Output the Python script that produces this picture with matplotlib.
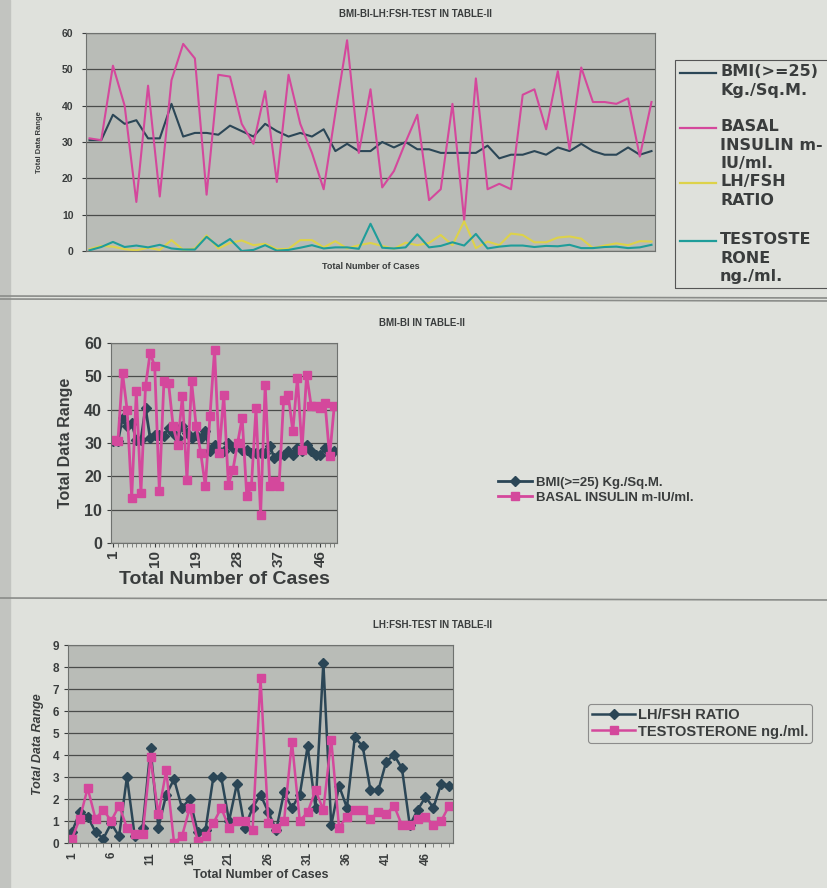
import matplotlib
matplotlib.use("Agg")
import matplotlib.pyplot as plt
from matplotlib.lines import Line2D
from matplotlib.patches import Rectangle
import numpy as np

plt.rcParams['font.family'] = ['Liberation Sans', 'DejaVu Sans']
plt.rcParams['font.weight'] = 'bold'
plt.rcParams['axes.labelweight'] = 'bold'

# Table-II values, cases 1..49
cases = list(range(1, 50))
bmi = [30.5, 30.5, 37.5, 35, 36, 31, 31, 40.5, 31.5, 32.5,
       32.5, 32, 34.5, 33, 31.5, 35, 33, 31.5, 32.5, 31.5,
       33.5, 27.5, 29.5, 27.5, 27.5, 30, 28.5, 30, 28, 28,
       27, 27, 27, 27, 29, 25.5, 26.5, 26.5, 27.5, 26.5,
       28.5, 27.5, 29.5, 27.5, 26.5, 26.5, 28.5, 26.5, 27.5]
insulin = [31, 30.5, 51, 40, 13.5, 45.5, 15, 47, 57, 53,
           15.5, 48.5, 48, 35, 29.5, 44, 19, 48.5, 35, 27,
           17, 38, 58, 27, 44.5, 17.5, 22, 30, 37.5, 14,
           17, 40.5, 8.5, 47.5, 17, 18.5, 17, 43, 44.5, 33.5,
           49.5, 28, 50.5, 41, 41, 40.5, 42, 26, 41]
lh_fsh = [0.5, 1.4, 1.2, 0.5, 0.2, 0.9, 0.3, 3.0, 0.3, 0.7,
          4.3, 0.7, 2.2, 2.9, 1.6, 2.0, 0.5, 0.6, 3.0, 3.0,
          1.0, 2.7, 0.7, 1.6, 2.2, 1.4, 0.6, 2.3, 1.6, 2.2,
          4.4, 1.6, 8.2, 0.8, 2.6, 1.6, 4.8, 4.4, 2.4, 2.4,
          3.7, 4.0, 3.4, 0.8, 1.5, 2.1, 1.6, 2.7, 2.6]
testo = [0.2, 1.1, 2.5, 1.1, 1.5, 1.0, 1.7, 0.7, 0.4, 0.4,
         3.9, 1.3, 3.3, 0.0, 0.3, 1.6, 0.1, 0.3, 0.9, 1.6,
         0.7, 1.0, 1.0, 0.6, 7.5, 0.9, 0.7, 1.0, 4.6, 1.0,
         1.4, 2.4, 1.5, 4.7, 0.7, 1.2, 1.5, 1.5, 1.1, 1.4,
         1.3, 1.7, 0.8, 0.8, 1.1, 1.2, 0.8, 1.0, 1.7]

lbl_bmi = "BMI(>=25) Kg./Sq.M."
lbl_ins = "BASAL INSULIN m-IU/ml."
lbl_lh = "LH/FSH RATIO"
lbl_te = "TESTOSTERONE ng./ml."
# wrapped labels for the narrow legend of the top chart
top_labels = ["BMI(>=25)\nKg./Sq.M.", "BASAL\nINSULIN m-\nIU/ml.",
              "LH/FSH\nRATIO", "TESTOSTE\nRONE\nng./ml."]

page = '#dfe1dc'
plot_bg = '#b9bcb7'
navy = '#2b4656'
magenta = '#d4489c'
yellow = '#ddd24a'
teal = '#1f9d9a'
txt = '#3a3d3d'

W, H = 827, 888
fig = plt.figure(figsize=(W / 100, H / 100), dpi=100, facecolor=page)


def box(x0, y0, x1, y1):
    # pixel box -> figure fraction rect
    return [x0 / W, 1 - y1 / H, (x1 - x0) / W, (y1 - y0) / H]


def fx(x):
    return x / W


def fy(y):
    return 1 - y / H


def style(ax):
    ax.set_facecolor(plot_bg)
    for s in ax.spines.values():
        s.set_color('#6f726f')
        s.set_linewidth(0.8)
    ax.grid(axis='y', color='#4a4c4a', linewidth=0.9)
    ax.set_axisbelow(True)
    ax.tick_params(colors=txt, labelcolor=txt)


# binding shadow on the left edge and separators between the charts
fig.patches.append(Rectangle((0, 0), 10 / W, 1, transform=fig.transFigure,
                             color='#c2c4c0', zorder=0))
for y in (296, 299, 598):
    fig.add_artist(Line2D([0, 1], [fy(y), fy(y + 2)],
                          color='#8a8c89', linewidth=1.2))

# ---- top chart: all four series ----
ax1 = fig.add_axes(box(86, 33, 655, 251))
style(ax1)
top_series = [bmi, insulin, lh_fsh, testo]
top_colors = [navy, magenta, yellow, teal]
for vals, col, lab in zip(top_series, top_colors, top_labels):
    ax1.plot(cases, vals, color=col, linewidth=1.5, label=lab)
ax1.set_xlim(0.7, 49.3)
ax1.set_ylim(0, 60)
ax1.set_yticks(range(0, 61, 10))
ax1.set_xticks([])
ax1.tick_params(axis='y', labelsize=7.5, length=3, pad=6)
ax1.set_xlabel("Total Number of Cases", fontsize=6.5, color=txt, labelpad=8)
ax1.set_ylabel("Total Data Range", fontsize=5.5, color=txt, labelpad=14)
fig.text(415 / W, fy(14), "BMI-BI-LH:FSH-TEST IN TABLE-II", ha='center',
         va='center', fontsize=7, color=txt)

# legend of the top chart: handle sits on the first text line of each entry
fig.add_artist(Rectangle((fx(675), fy(288)), fx(170), (288 - 60) / H,
                         transform=fig.transFigure, fill=False,
                         edgecolor='#555', linewidth=0.8))
for y, col, lab in zip([73, 128, 183, 241], top_colors, top_labels):
    fig.add_artist(Line2D([fx(680), fx(716)], [fy(y), fy(y)], color=col,
                          linewidth=1.6))
    fig.text(fx(720), fy(y - 9), lab, ha='left', va='top', fontsize=11.5,
             family='DejaVu Sans', color=txt, linespacing=1.3)

# ---- middle chart: BMI and insulin ----
ax2 = fig.add_axes(box(111, 343, 337, 543))
style(ax2)
ax2.plot(cases, bmi, color=navy, linewidth=2, marker='D', markersize=5,
         label=lbl_bmi)
ax2.plot(cases, insulin, color=magenta, linewidth=2, marker='s', markersize=6,
         label=lbl_ins)
ax2.set_xlim(0.5, 49.6)
ax2.set_ylim(0, 60)
ax2.set_yticks(range(0, 61, 10))
ax2.set_xticks([1, 10, 19, 28, 37, 46])
ax2.set_xticks(cases, minor=True)
ax2.tick_params(axis='y', labelsize=11.5, length=3)
ax2.tick_params(axis='x', labelsize=11, rotation=90, length=3, pad=2)
ax2.tick_params(axis='x', which='minor', length=3, color='#6f726f')
ax2.set_xlabel("Total Number of Cases", fontsize=14, color=txt, labelpad=3)
ax2.set_ylabel("Total Data Range", fontsize=11.5, color=txt, labelpad=8)
fig.text(422 / W, fy(323), "BMI-BI IN TABLE-II", ha='center',
         va='center', fontsize=7, color=txt)
leg2 = ax2.legend(loc='upper left', bbox_to_anchor=(fx(495), fy(474)),
                  bbox_transform=fig.transFigure, fontsize=9.5, frameon=False,
                  handlelength=2.6, handletextpad=0.3, labelspacing=0.2,
                  borderpad=0.2, borderaxespad=0)
for t in leg2.get_texts():
    t.set_color(txt)

# ---- bottom chart: LH/FSH and testosterone ----
ax3 = fig.add_axes(box(68, 645, 453, 843))
style(ax3)
ax3.plot(cases, lh_fsh, color=navy, linewidth=1.8, marker='D', markersize=5,
         label=lbl_lh)
ax3.plot(cases, testo, color=magenta, linewidth=1.8, marker='s', markersize=5.5,
         label=lbl_te)
ax3.set_xlim(0.5, 49.5)
ax3.set_ylim(0, 9)
ax3.set_yticks(range(0, 10))
ax3.set_xticks(list(range(1, 50, 5)))
ax3.set_xticks(cases, minor=True)
ax3.tick_params(axis='y', labelsize=8.5, length=3)
ax3.tick_params(axis='x', labelsize=8.5, rotation=90, length=3)
ax3.tick_params(axis='x', which='minor', length=3, color='#6f726f')
ax3.set_xlabel("Total Number of Cases", fontsize=9, color=txt, labelpad=3)
ax3.set_ylabel("Total Data Range", fontsize=9, color=txt, style='italic',
               labelpad=6)
fig.text(432 / W, fy(625), "LH:FSH-TEST IN TABLE-II", ha='center',
         va='center', fontsize=7, color=txt)
leg3 = ax3.legend(loc='upper left', bbox_to_anchor=(fx(588), fy(704)),
                  bbox_transform=fig.transFigure, fontsize=10.5, frameon=True,
                  handlelength=2.9, handletextpad=0.2, labelspacing=0.15,
                  borderpad=0.3, borderaxespad=0, facecolor=page,
                  edgecolor='#777')
leg3.get_frame().set_linewidth(0.8)
for t in leg3.get_texts():
    t.set_color(txt)

fig.savefig("out.png", dpi=100, facecolor=page)
